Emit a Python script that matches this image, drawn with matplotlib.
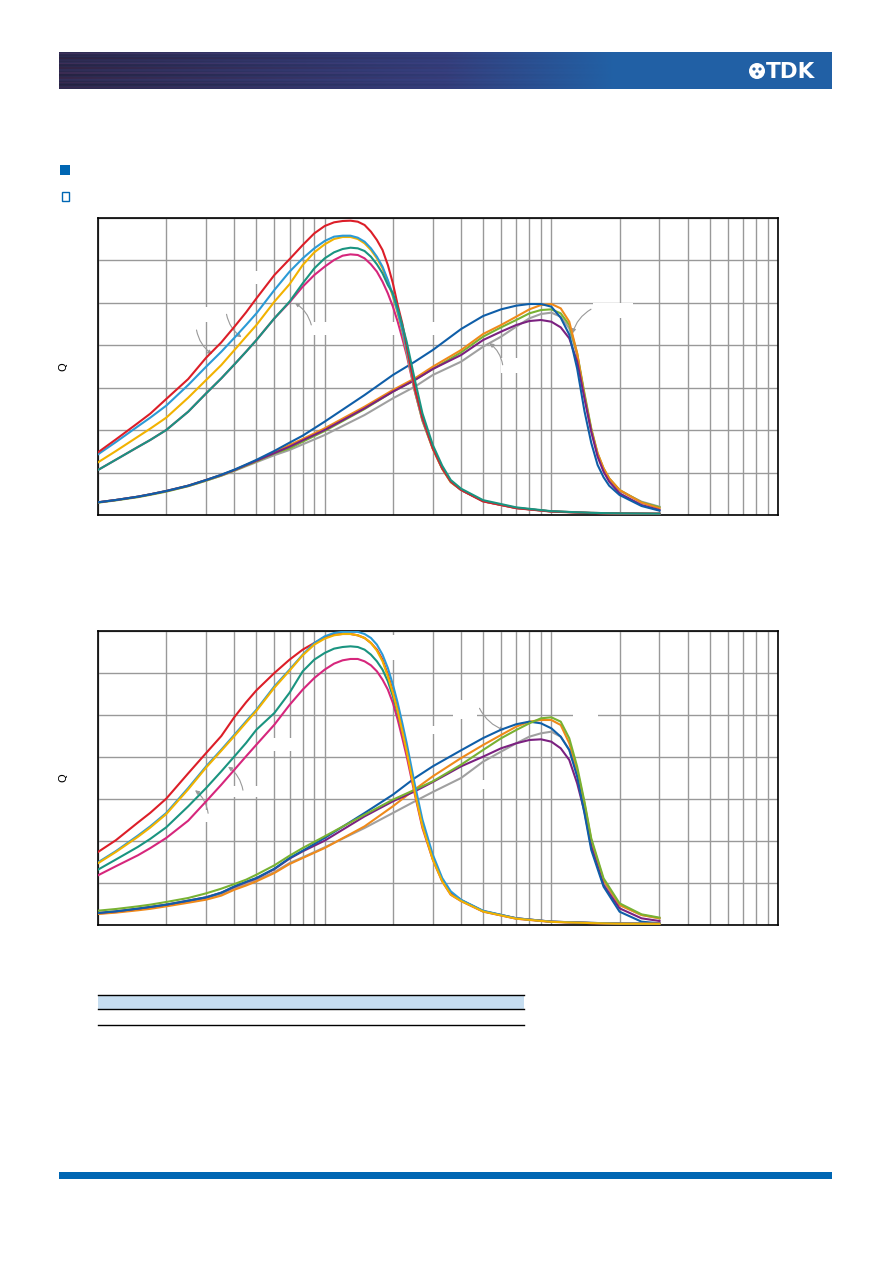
import numpy as np
import matplotlib
matplotlib.use('Agg')
import matplotlib.pyplot as plt
from matplotlib.patches import Rectangle, Circle
from matplotlib.ticker import LogLocator, NullFormatter, FixedLocator

# ---------------- data (frequency in MHz, Q) ----------------
freq_a = [10, 12, 15, 17, 20, 25, 30, 35, 40, 45,
          50, 60, 70, 80, 90, 100,
          110, 120, 130, 140, 150, 160, 170, 180, 190, 200,
          210, 220, 230, 250, 270, 300, 330, 360, 400,
          500, 700, 1000, 1500, 2000, 3000]
freq_b1 = [10, 12, 15, 17, 20, 25, 30, 35, 40, 45,
           50, 60, 70, 80, 100,
           150, 200, 250, 300, 400,
           500, 600, 700, 800, 900, 1000,
           1100, 1200, 1300, 1400, 1500,
           1600, 1700, 1800, 2000, 2500, 3000]
freq_b2 = [10, 12, 15, 17, 20, 25, 30, 35, 40, 45,
           50, 60, 70, 80, 100,
           150, 200, 250, 300, 400,
           500, 600, 700, 800, 900, 1000,
           1100, 1200, 1300, 1400, 1500,
           1700, 2000, 2500, 3000]

# chart 1 - high inductance group
c1_red = [14.77, 17.83, 21.68, 23.88, 27.34, 32.05, 37.08, 40.69, 44.39, 47.76,
          51.06, 56.56, 60.3, 63.63, 66.38, 68.11,
          68.98, 69.29, 69.37, 69.13, 68.35, 66.78, 64.81, 62.46, 58.92, 54.6,
          49.49, 45.17, 39.83, 29.85, 22.78, 15.71, 11.0, 7.86, 5.9,
          3.2, 1.6, 0.8, 0.45, 0.35, 0.3]
c1_lblue = [14.3, 17.2, 20.9, 22.94, 25.77, 30.64, 34.96, 38.49, 41.79, 44.78,
            47.53, 53.03, 57.35, 60.49, 62.85, 64.58,
            65.6, 65.83, 65.83, 65.36, 64.42, 62.85, 60.88, 58.53, 55.38, 51.85,
            47.92, 43.6, 38.89, 29.46, 22.39, 15.71, 11.0, 7.86, 5.9,
            3.25, 1.65, 0.85, 0.5, 0.38, 0.3]
c1_yellow = [12.41, 15.08, 18.46, 20.35, 22.94, 27.65, 31.82, 35.35, 38.89, 42.03,
             44.78, 50.28, 54.4, 58.92, 61.91, 63.79,
             65.05, 65.52, 65.52, 65.05, 64.03, 62.46, 60.49, 58.13, 54.99, 51.46,
             47.53, 43.21, 38.49, 29.22, 22.15, 15.55, 10.84, 7.7, 5.9,
             3.25, 1.65, 0.85, 0.5, 0.38, 0.3]
c1_teal = [10.61, 13.04, 16.03, 17.68, 20.03, 24.35, 28.67, 32.21, 35.51, 38.49,
           41.24, 46.35, 50.3, 54.6, 58.13, 60.49,
           61.91, 62.69, 63.0, 62.85, 62.22, 60.88, 59.08, 56.96, 54.21, 52.24,
           48.71, 44.78, 40.85, 31.82, 23.96, 16.5, 11.63, 8.25, 6.2,
           3.5, 1.8, 0.9, 0.5, 0.38, 0.3]
c1_magenta = [10.61, 13.04, 16.03, 17.68, 20.03, 24.35, 28.67, 32.21, 35.51, 38.49,
              41.24, 46.35, 50.12, 53.81, 56.56, 58.53,
              60.1, 61.12, 61.43, 61.28, 60.49, 59.08, 57.35, 54.99, 52.24, 49.1,
              45.56, 41.64, 37.71, 29.07, 22.39, 15.71, 11.0, 7.86, 5.9,
              3.25, 1.65, 0.85, 0.5, 0.38, 0.3]

# chart 1 - low inductance group
c1_dblue = [2.99, 3.54, 4.32, 4.87, 5.66, 6.91, 8.25, 9.5, 10.7, 11.9,
            13.0, 15.1, 17.05, 18.7, 22.0,
            28.28, 33.0, 36.14, 38.89, 43.84,
            46.9, 48.47, 49.34, 49.73, 49.73, 49.1,
            46.5, 42.5, 34.5, 24.5, 17.0,
            11.8, 8.9, 6.9, 4.71, 2.12, 1.02]
c1_orange = [2.99, 3.54, 4.32, 4.87, 5.66, 6.91, 8.25, 9.43, 10.61, 11.78,
             12.8, 14.77, 16.5, 17.91, 20.43,
             25.53, 29.46, 32.21, 34.96, 38.89,
             42.66, 44.78, 46.74, 48.47, 49.49, 49.73,
             48.71, 45.56, 38.1, 27.89, 20.03,
             14.53, 11.0, 8.64, 5.89, 2.91, 1.57]
c1_green = [2.9, 3.45, 4.2, 4.75, 5.5, 6.8, 8.1, 9.3, 10.5, 11.65,
            12.65, 14.5, 15.71, 17.28, 19.8,
            24.98, 29.07, 31.82, 34.41, 38.34,
            42.03, 44.23, 45.96, 47.53, 48.31, 48.47,
            47.53, 44.78, 38.1, 28.67, 20.43,
            14.53, 11.0, 8.64, 5.89, 2.99, 1.81]
c1_gray = [2.99, 3.54, 4.32, 4.87, 5.6, 6.8, 8.1, 9.25, 10.4, 11.5,
           12.45, 14.1, 15.32, 16.65, 18.85,
           23.57, 27.5, 30.25, 33.0, 36.14,
           39.67, 42.03, 44.39, 46.35, 47.37, 47.69,
           46.74, 43.99, 37.71, 28.28, 20.03,
           14.14, 10.61, 8.25, 5.73, 3.14, 1.96]
c1_purple = [2.99, 3.54, 4.32, 4.87, 5.66, 6.91, 8.25, 9.43, 10.61, 11.78,
             12.8, 14.6, 16.1, 17.6, 20.03,
             25.14, 29.07, 31.82, 34.41, 37.71,
             41.24, 43.21, 44.78, 45.72, 45.96, 45.56,
             44.23, 41.64, 36.14, 27.5, 19.64,
             13.75, 10.21, 7.86, 5.11, 2.36, 1.18]

# chart 2 - high inductance group
c2_red = [17.38, 20.2, 24.4, 26.7, 30.08, 36.11, 40.95, 45.0, 49.53, 53.02,
          55.88, 60.0, 63.18, 65.56, 67.15, 68.5,
          69.13, 69.29, 69.29, 68.97, 68.34, 67.15, 65.56, 63.18, 59.61, 55.64,
          51.27, 46.51, 41.75, 31.83, 23.89, 15.95, 10.79, 7.62, 5.9,
          3.3, 1.6, 0.8, 0.5, 0.35, 0.3]
c2_lblue = [14.92, 17.6, 21.3, 23.5, 26.67, 32.62, 37.78, 41.75, 45.32, 48.5,
            51.27, 56.83, 60.8, 64.37, 67.15, 68.73,
            69.53, 69.8, 69.8, 69.8, 69.29, 68.34, 66.75, 64.37, 61.19, 57.23,
            52.86, 48.1, 43.34, 33.41, 25.08, 16.75, 11.19, 8.02, 6.0,
            3.4, 1.6, 0.8, 0.5, 0.35, 0.3]
c2_yellow = [14.7, 17.4, 21.0, 23.2, 26.4, 32.3, 37.5, 41.5, 45.0, 48.2,
             51.0, 56.5, 60.56, 64.21, 66.75, 68.18,
             68.97, 69.29, 69.29, 68.97, 68.34, 67.15, 65.32, 62.78, 59.21, 55.24,
             50.88, 46.11, 41.35, 31.43, 23.49, 15.56, 10.4, 7.22, 5.7,
             3.2, 1.5, 0.75, 0.45, 0.3, 0.28]
c2_teal = [13.18, 15.6, 18.6, 20.5, 23.26, 28.26, 32.62, 36.59, 40.16, 43.34,
           46.51, 50.48, 55.3, 60.4, 63.18, 64.77,
           65.8, 66.19, 66.35, 66.19, 65.56, 64.37, 62.78, 60.8, 58.02, 54.45,
           50.48, 46.11, 41.75, 32.22, 23.89, 15.95, 10.79, 7.62, 5.9,
           3.3, 1.6, 0.8, 0.5, 0.35, 0.3]
c2_magenta = [11.83, 14.0, 16.6, 18.3, 20.72, 24.84, 29.45, 33.41, 36.99, 40.16,
              42.94, 47.7, 52.4, 56.04, 58.81, 60.8,
              62.23, 63.02, 63.34, 63.34, 62.78, 61.83, 60.4, 58.42, 56.04, 52.86,
              48.89, 44.53, 40.16, 31.03, 23.1, 15.56, 10.4, 7.22, 5.7,
              3.2, 1.5, 0.75, 0.45, 0.3, 0.28]

# chart 2 - low inductance group
c2_dblue = [2.86, 3.25, 3.9, 4.3, 4.84, 5.8, 6.59, 7.7, 9.21, 10.3,
            11.19, 13.41, 15.95, 17.7, 20.72,
            26.67, 31.03, 35.0, 37.78, 41.6,
            44.5, 46.5, 47.8, 48.42, 48.02, 46.83,
            44.84, 41.67, 35.32, 26.59, 17.86,
            9.13, 3.17, 0.79, 0.4]
c2_orange = [2.62, 2.95, 3.5, 3.85, 4.44, 5.3, 6.03, 7.0, 8.41, 9.4,
             10.4, 12.38, 14.52, 15.95, 18.33,
             23.49, 28.26, 32.3, 35.4, 39.76,
             42.86, 45.24, 47.23, 48.42, 48.81, 48.81,
             47.62, 43.26, 36.91, 28.97, 20.24,
             10.71, 4.76, 2.38, 1.59]
c2_green = [3.41, 3.81, 4.44, 4.84, 5.48, 6.43, 7.54, 8.65, 9.76, 10.79,
            11.98, 14.21, 16.5, 18.33, 21.11,
            26.27, 29.84, 32.22, 34.21, 38.18,
            41.67, 44.45, 46.43, 48.02, 49.21, 49.45,
            48.42, 44.45, 37.7, 29.37, 20.64,
            11.11, 5.16, 2.54, 1.75]
c2_gray = [2.7, 3.1, 3.7, 4.1, 4.6, 5.5, 6.3, 7.3, 8.7, 9.7,
           10.7, 12.6, 14.76, 16.11, 18.49,
           23.1, 26.67, 29.45, 31.67, 35.0,
           38.89, 41.27, 43.26, 44.84, 45.64, 46.03,
           44.84, 41.67, 36.11, 28.57, 19.84,
           10.32, 4.76, 2.38, 1.59]
c2_purple = [2.86, 3.25, 3.9, 4.3, 4.84, 5.8, 6.59, 7.7, 9.1, 10.2,
             11.1, 13.3, 15.8, 17.54, 20.08,
             25.87, 29.45, 31.83, 34.05, 37.78,
             40.08, 42.07, 43.26, 44.05, 44.21, 43.65,
             42.07, 39.29, 33.73, 26.99, 18.65,
             9.52, 3.97, 1.59, 0.95]

# leader lines (start, tip) in (MHz, Q)
leaders1 = [((27.2, 43.6), (31.9, 37.9)), ((36.9, 47.3), (43.0, 41.9)), ((87.3, 44.8), (73.8, 50.0)),
            ((610, 35.4), (533, 40.5)), ((1496, 48.5), (1241, 42.8))]
leaders2 = [((30.6, 26.6), (26.8, 32.1)), ((43.6, 32.1), (37.5, 37.7)), ((482, 51.6), (621, 46.4))]

# blank label areas that interrupt the grid: (f0, f1, q0, q1)
masks1 = [(21.0, 26.5, 41.8, 45.0), (26.0, 36.0, 45.5, 49.0), (44.0, 54.0, 54.5, 57.5),
          (88.0, 330.0, 42.5, 45.5), (600.0, 760.0, 33.5, 37.0), (1100.0, 1220.0, 53.0, 57.5),
          (1520.0, 2300.0, 46.5, 50.0)]
masks2 = [(26.0, 31.5, 24.5, 27.5), (38.0, 52.0, 30.5, 33.0), (54.0, 66.0, 41.5, 44.5),
          (69.0, 72.0, 41.5, 44.5), (185.0, 215.0, 63.0, 69.0), (280.0, 320.0, 45.5, 47.5),
          (370.0, 470.0, 49.0, 53.5), (440.0, 560.0, 32.5, 34.5), (1250.0, 1600.0, 48.6, 51.0)]

COL = {
    'red': '#dc1e28', 'lblue': '#2b9ad6', 'yellow': '#f2b200', 'teal': '#1a9480',
    'magenta': '#d6267c', 'dblue': '#0f5ea8', 'orange': '#ef8a1a', 'green': '#78b232',
    'gray': '#a0a0a0', 'purple': '#7b2180',
}

W, H = 892, 1263
fig = plt.figure(figsize=(W / 100, H / 100), dpi=100)

# ---------------- page background elements ----------------
bg = fig.add_axes([0, 0, 1, 1])
bg.set_axis_off()

bw, bh = 773, 37
xs = np.linspace(0, 1, bw)
rows = np.arange(bh)
left = np.array([0.17, 0.16, 0.30])
mid = np.array([0.20, 0.24, 0.48])
right = np.array([0.13, 0.38, 0.65])
base = np.zeros((bh, bw, 3))
for c in range(3):
    col = np.interp(xs, [0, 0.5, 0.72, 1.0], [left[c], mid[c], right[c], right[c]])
    base[:, :, c] = col[None, :]
streak = (np.sin(rows * 1.9) * 0.5 + np.sin(rows * 0.7 + 1.0) * 0.5)[:, None]
fade = np.clip(1 - xs / 0.72, 0, 1)[None, :]
img = base * (1 + 0.18 * streak * fade)[:, :, None]
img[:, :, 0] += (0.05 * (np.sin(rows * 1.3) > 0.6)[:, None] * fade)
img = np.clip(img, 0, 1)
bg.imshow(img, extent=[59, 832, 89, 52], aspect='auto', interpolation='bilinear')

# TDK logo
bg.add_patch(Circle((757, 71), 8, facecolor='white', edgecolor='none'))
for dx, dy in [(-3, -2), (3, -2), (0, 3)]:
    bg.add_patch(Circle((757 + dx, 71 + dy), 1.6, facecolor='#2a62a2', edgecolor='none'))
bg.text(791, 71.5, 'TDK', color='white', fontsize=15.5, fontweight='bold',
        ha='center', va='center', family='DejaVu Sans')

# section squares
bg.add_patch(Rectangle((60, 165), 10, 10, facecolor='#0066b3', edgecolor='none'))
bg.add_patch(Rectangle((61.5, 192), 7, 9, facecolor='white', edgecolor='#0066b3', lw=1.0))

# table
bg.add_patch(Rectangle((98, 994.5), 426, 14.5, facecolor='#c6ddf0', edgecolor='none'))
bg.plot([98, 524], [994.5, 994.5], color='black', lw=1.0)
bg.plot([98, 524], [1009, 1009], color='black', lw=1.0)
bg.plot([98, 524], [1024.5, 1024.5], color='black', lw=1.0)

# bottom bar
bg.add_patch(Rectangle((59, 1172), 773, 7, facecolor='#0066b3', edgecolor='none'))

bg.set_xlim(0, W)
bg.set_ylim(H, 0)


def make_chart(rect, groups, leaders, masks):
    ax = fig.add_axes(rect)
    ax.set_xscale('log')
    ax.set_xlim(10, 10000)
    ax.set_ylim(0, 70)
    ax.xaxis.set_major_locator(LogLocator(base=10, numticks=10))
    ax.xaxis.set_minor_locator(LogLocator(base=10, subs=np.arange(2, 10), numticks=20))
    ax.xaxis.set_major_formatter(NullFormatter())
    ax.xaxis.set_minor_formatter(NullFormatter())
    ax.yaxis.set_major_locator(FixedLocator(np.arange(0, 71, 10)))
    ax.set_yticklabels([])
    ax.tick_params(which='both', length=0)
    ax.grid(which='both', color='#999999', lw=1.0)
    ax.set_axisbelow(True)
    for s in ax.spines.values():
        s.set_color('black')
        s.set_linewidth(1.2)
    for (f0, f1, q0, q1) in masks:
        ax.add_patch(Rectangle((f0, q0), f1 - f0, q1 - q0, facecolor='white',
                               edgecolor='none', zorder=1))
    for freqs, series in groups:
        for name, vals in series:
            ax.plot(freqs, vals, color=COL[name], lw=1.5, solid_joinstyle='round', zorder=3)
    for (start, tip) in leaders:
        ax.annotate('', xy=tip, xytext=start,
                    arrowprops=dict(arrowstyle='-|>', color='#999999', lw=0.8,
                                    mutation_scale=6, shrinkA=0, shrinkB=0,
                                    connectionstyle='arc3,rad=0.2'), zorder=2)
    ax.set_ylabel('Q', fontsize=8, rotation=90)
    ax.yaxis.set_label_coords(-0.044, 0.5)
    return ax


groups1 = [
    (freq_b1, [('gray', c1_gray), ('green', c1_green), ('orange', c1_orange),
               ('purple', c1_purple), ('dblue', c1_dblue)]),
    (freq_a, [('magenta', c1_magenta), ('yellow', c1_yellow), ('lblue', c1_lblue),
              ('red', c1_red), ('teal', c1_teal)]),
]
groups2 = [
    (freq_b2, [('gray', c2_gray), ('orange', c2_orange), ('purple', c2_purple),
               ('dblue', c2_dblue), ('green', c2_green)]),
    (freq_a, [('magenta', c2_magenta), ('teal', c2_teal), ('red', c2_red),
              ('lblue', c2_lblue), ('yellow', c2_yellow)]),
]

make_chart([98 / W, (H - 515) / H, 680 / W, 297 / H], groups1, leaders1, masks1)
make_chart([98 / W, (H - 925) / H, 680 / W, 294 / H], groups2, leaders2, masks2)

fig.savefig('out.png', dpi=100)
